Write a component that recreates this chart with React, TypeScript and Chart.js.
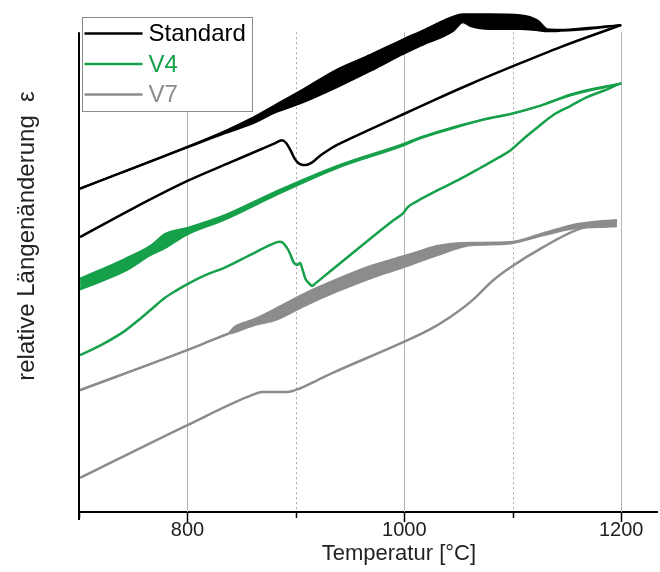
import React, { useEffect, useRef } from 'react';
import { Chart, registerables } from 'chart.js';

Chart.register(...registerables);

// ---- axis ----
const X_MIN = 700;
const X_MAX = 1233;
const Y_MIN = 0;
const Y_MAX = 104;
const Y_AXIS_TOP = 100;
const xLabelTicks = [800, 1000, 1200];

const seriesNames = ['Standard', 'V4', 'V7'];
const seriesColors = ['#000000', '#16a04a', '#8c8c8c'];

// ---- Standard: heating (noisy band) ----
const stdHeatT = [701, 800, 835, 858, 881, 904, 938, 969, 999, 1015, 1045, 1054, 1061, 1079, 1107, 1123, 1132, 1144, 1170, 1200];
const stdHeatHi = [67.4, 76.1, 79.4, 81.9, 84.8, 87.7, 92.2, 95.3, 98.5, 100.1, 103.2, 103.7, 103.7, 103.7, 103.5, 102.4, 100.6, 100.5, 100.9, 101.5];
const stdHeatLo = [67.4, 76.0, 79.0, 80.8, 83.3, 85.2, 88.6, 92.0, 95.5, 97.2, 100.3, 102.1, 101.3, 100.7, 100.7, 100.4, 100.2, 100.3, 100.7, 101.5];

// ---- Standard: cooling ----
const stdCoolT = [701, 750, 800, 840, 881, 887, 891, 895, 899, 902, 905, 908.5, 913, 918, 922, 929, 938, 950, 971, 999, 1027, 1061, 1098, 1144, 1200];
const stdCoolY = [57.3, 63.3, 69.0, 72.9, 76.9, 77.5, 76.9, 75.4, 73.6, 72.8, 72.4, 72.3, 72.6, 73.4, 74.2, 75.3, 76.5, 77.8, 80.0, 82.9, 85.8, 89.2, 92.7, 96.9, 101.5];

// ---- V4: heating (noisy band) ----
const v4HeatT = [701, 742, 767, 779, 800, 835, 881, 938, 999, 1015, 1045, 1076, 1098, 1123, 1153, 1174, 1200];
const v4HeatHi = [48.6, 52.7, 55.6, 57.9, 59.2, 61.9, 66.7, 72.1, 76.7, 78.1, 80.2, 81.9, 82.9, 84.5, 87.0, 88.2, 89.3];
const v4HeatLo = [46.4, 50.2, 53.7, 55.0, 57.9, 61.0, 66.0, 71.7, 76.4, 77.9, 80.0, 82.0, 83.0, 84.5, 86.8, 88.0, 89.3];

// ---- V4: cooling ----
const v4CoolT = [701, 722, 742, 755, 767, 779, 790, 800, 817, 835, 858, 876, 882, 885, 888, 890, 893, 895, 898, 901, 904, 906, 909, 912, 915, 918, 930, 960, 990, 999, 1003, 1008, 1015, 1030, 1049, 1070, 1088, 1098, 1110, 1123, 1137, 1153, 1169, 1187, 1200];
const v4CoolY = [32.7, 35.0, 37.7, 40.0, 42.3, 44.6, 46.2, 47.5, 49.4, 51.0, 53.6, 55.6, 56.2, 56.3, 56.1, 55.6, 54.6, 53.6, 52.0, 51.5, 51.9, 50.6, 48.5, 47.7, 47.1, 47.65, 49.85, 55.4, 60.8, 62.3, 63.5, 64.3, 65.2, 67.0, 69.1, 71.7, 74.0, 75.4, 77.8, 80.2, 82.7, 84.6, 86.5, 88.1, 89.4];

// ---- V7: heating (noisy band) ----
const v7HeatT = [701, 800, 820, 836, 838, 841, 844, 862, 881, 907, 938, 969, 999, 1015, 1030, 1049, 1061, 1098, 1128, 1159, 1180, 1196];
const v7HeatHi = [25.4, 33.75, 35.57, 37.02, 37.2, 38.0, 38.6, 40.2, 42.3, 45.4, 48.5, 51.25, 53.3, 54.4, 55.4, 56.0, 56.1, 56.25, 58.1, 60.0, 60.6, 60.8];
const v7HeatLo = [25.4, 33.75, 35.57, 37.02, 37.2, 37.3, 37.5, 39.0, 40.0, 42.9, 46.0, 48.75, 51.0, 52.3, 53.5, 55.0, 55.6, 56.0, 57.7, 59.2, 59.4, 59.6];

// ---- V7: cooling ----
const v7CoolT = [701, 800, 860, 869, 881, 892, 904, 920, 934, 999, 1024, 1042, 1061, 1082, 1098, 1128, 1159, 1196];
const v7CoolY = [7.1, 18.1, 24.4, 25.0, 25.0, 25.0, 25.8, 27.5, 29.0, 35.4, 38.1, 40.6, 43.8, 48.3, 51.0, 55.2, 58.8, 60.8];

const yTitle = 'relative Längenänderung  ε';
const xTitle = 'Temperatur [°C]';

const pts = (xs: number[], ys: number[]) => xs.map((x, i) => ({ x, y: ys[i] }));

const FONT = 'Liberation Sans, Arial, sans-serif';

const gridPlugin = {
  id: 'customGrid',
  beforeDatasetsDraw(chart: any) {
    const { ctx, chartArea, scales } = chart;
    const xs = scales.x;
    const ys = scales.y;
    const top = ys.getPixelForValue(Y_AXIS_TOP);
    ctx.save();
    xs.ticks.forEach((t: any) => {
      const v = t.value;
      if (v <= X_MIN) return;
      const px = Math.round(xs.getPixelForValue(v)) + 0.5;
      ctx.beginPath();
      if (v % 200 === 0) {
        ctx.strokeStyle = '#b4b4b4';
        ctx.setLineDash([]);
      } else {
        ctx.strokeStyle = '#a8a8a8';
        ctx.setLineDash([2, 3]);
      }
      ctx.lineWidth = 1;
      ctx.moveTo(px, top);
      ctx.lineTo(px, chartArea.bottom);
      ctx.stroke();
    });
    ctx.setLineDash([]);
    // left axis line
    ctx.strokeStyle = '#000';
    ctx.lineWidth = 2;
    ctx.beginPath();
    ctx.moveTo(chartArea.left, top);
    ctx.lineTo(chartArea.left, chartArea.bottom + 8);
    ctx.stroke();
    // x ticks
    xs.ticks.forEach((t: any) => {
      const v = t.value;
      const px = Math.round(xs.getPixelForValue(v)) + 0.5;
      const len = v % 200 === 0 ? 10 : 6;
      ctx.lineWidth = 1.5;
      ctx.beginPath();
      ctx.moveTo(px, chartArea.bottom);
      ctx.lineTo(px, chartArea.bottom + len);
      ctx.stroke();
    });
    // y title
    ctx.save();
    ctx.translate(27, 236);
    ctx.rotate(-Math.PI / 2);
    ctx.font = `24px ${FONT}`;
    ctx.fillStyle = '#222';
    ctx.textAlign = 'center';
    ctx.textBaseline = 'middle';
    ctx.fillText(yTitle, 0, 0);
    ctx.restore();
    // x title
    ctx.font = `22px ${FONT}`;
    ctx.fillStyle = '#222';
    ctx.textAlign = 'center';
    ctx.textBaseline = 'middle';
    ctx.fillText(xTitle, xs.getPixelForValue(995), 554);
    ctx.restore();
  },
};

const legendPlugin = {
  id: 'customLegend',
  afterDraw(chart: any) {
    const { ctx, chartArea } = chart;
    const bx = chartArea.left + 3.5;
    const by = 17.5;
    const bw = 170;
    const bh = 94;
    ctx.save();
    ctx.fillStyle = '#ffffff';
    ctx.fillRect(bx, by, bw, bh);
    ctx.strokeStyle = '#8a8a8a';
    ctx.lineWidth = 1;
    ctx.strokeRect(bx, by, bw, bh);
    ctx.font = `24px ${FONT}`;
    ctx.textBaseline = 'middle';
    ctx.textAlign = 'left';
    seriesNames.forEach((name, i) => {
      const y = by + 16 + i * 30.5;
      ctx.strokeStyle = seriesColors[i];
      ctx.lineWidth = 2.5;
      ctx.beginPath();
      ctx.moveTo(bx + 2, y);
      ctx.lineTo(bx + 60, y);
      ctx.stroke();
      ctx.fillStyle = seriesColors[i];
      ctx.fillText(name, bx + 66, y + 1);
    });
    ctx.restore();
  },
};

export default function App() {
  const ref = useRef<HTMLCanvasElement>(null);

  useEffect(() => {
    const canvas = ref.current;
    if (!canvas) return;

    const common = {
      pointRadius: 0,
      pointHoverRadius: 0,
      cubicInterpolationMode: 'monotone' as const,
      clip: false as any,
    };

    const band = (name: string, T: number[], hi: number[], lo: number[], color: string) => [
      { ...common, label: name, data: pts(T, hi), borderColor: color, borderWidth: 2.2, fill: false },
      { ...common, label: name, data: pts(T, lo), borderColor: color, borderWidth: 2.2, backgroundColor: color, fill: '-1' },
    ];
    const line = (name: string, T: number[], Y: number[], color: string) => ({
      ...common,
      label: name,
      data: pts(T, Y),
      borderColor: color,
      borderWidth: 2.5,
      borderJoinStyle: 'round',
      fill: false,
    });

    const datasets: any[] = [
      ...band(seriesNames[0], stdHeatT, stdHeatHi, stdHeatLo, seriesColors[0]),
      line(seriesNames[0], stdCoolT, stdCoolY, seriesColors[0]),
      ...band(seriesNames[1], v4HeatT, v4HeatHi, v4HeatLo, seriesColors[1]),
      line(seriesNames[1], v4CoolT, v4CoolY, seriesColors[1]),
      ...band(seriesNames[2], v7HeatT, v7HeatHi, v7HeatLo, seriesColors[2]),
      line(seriesNames[2], v7CoolT, v7CoolY, seriesColors[2]),
    ];

    const chart = new Chart(canvas, {
      type: 'line',
      data: { datasets },
      options: {
        responsive: false,
        animation: false,
        events: [],
        layout: { padding: { left: 0, top: 13, right: 3, bottom: 0 } },
        plugins: {
          legend: { display: false },
          tooltip: { enabled: false },
        },
        scales: {
          x: {
            type: 'linear',
            min: X_MIN,
            max: X_MAX,
            afterFit: (s: any) => { s.height = 60; },
            border: { display: true, color: '#000', width: 2 },
            grid: { display: true, drawOnChartArea: false, drawTicks: false },
            ticks: {
              stepSize: 100,
              includeBounds: false,
              autoSkip: false,
              maxRotation: 0,
              padding: 6,
              color: '#222',
              font: { family: FONT, size: 20 },
              callback: (v: any) => (xLabelTicks.includes(Number(v)) ? String(v) : ''),
            },
            title: { display: false },
          },
          y: {
            type: 'linear',
            min: Y_MIN,
            max: Y_MAX,
            afterFit: (s: any) => { s.width = 79; },
            border: { display: false },
            grid: { display: false },
            ticks: { display: false },
            title: { display: false },
          },
        },
      },
      plugins: [gridPlugin, legendPlugin],
    });

    return () => chart.destroy();
  }, []);

  return (
    <div style={{ position: 'absolute', left: 0, top: 0, width: 660, height: 572, background: '#fff' }}>
      <canvas ref={ref} width={660} height={572} style={{ display: 'block' }} />
    </div>
  );
}
